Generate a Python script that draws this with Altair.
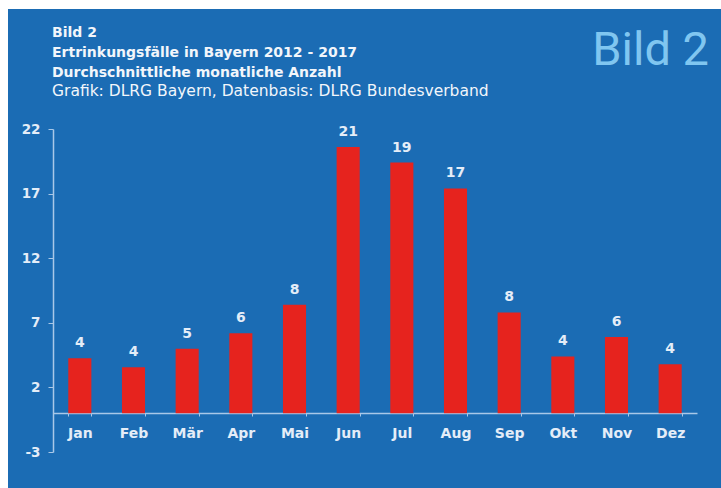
import altair as alt
import pandas as pd

months = ["Jan", "Feb", "Mär", "Apr", "Mai", "Jun", "Jul", "Aug", "Sep", "Okt", "Nov", "Dez"]
values = [4.26, 3.56, 5.0, 6.2, 8.4, 20.6, 19.4, 17.4, 7.8, 4.4, 5.9, 3.8]
y_ticks = [-3, 2, 7, 12, 17, 22]
title_bold = ["Bild 2", "Ertrinkungsfälle in Bayern 2012 - 2017", "Durchschnittliche monatliche Anzahl"]
title_regular = "Grafik: DLRG Bayern, Datenbasis: DLRG Bundesverband"
badge = "Bild 2"

BLUE = "#1b6cb4"
RED = "#e6231e"
LIGHT = "#e4edf8"
AXIS = "#a9c8e8"
FONT = "DejaVu Sans"

df = pd.DataFrame({"month": months, "value": values})
one = pd.DataFrame({"k": [0]})

x_enc = alt.X("month:N", sort=months, title=None,
              scale=alt.Scale(paddingInner=0.57, paddingOuter=0.285),
              axis=alt.Axis(labelAngle=0, offset=-39, domainColor=AXIS, domainWidth=1.5,
                            tickColor=AXIS, tickSize=3, tickBand="extent",
                            labelColor=LIGHT, labelFont=FONT, labelFontSize=14,
                            labelFontWeight="bold", labelPadding=10))
y_enc = alt.Y("value:Q", title=None,
              scale=alt.Scale(domain=[-3, 22], nice=False, zero=False),
              axis=alt.Axis(values=y_ticks, grid=False, domainColor=AXIS, domainWidth=1.5,
                            tickColor=AXIS, tickSize=5, labelColor=LIGHT, labelFont=FONT,
                            labelFontSize=13.5, labelFontWeight="bold", labelPadding=8,
                            labelExpr="datum.value < 0 ? '-' + toString(-datum.value) : datum.label"))

bars = alt.Chart(df).mark_bar(color=RED).encode(x=x_enc, y=y_enc, y2=alt.datum(0))

labels = alt.Chart(df).mark_text(font=FONT, fontSize=14, fontWeight="bold", color=LIGHT,
                                 baseline="alphabetic", dy=-11).encode(
    x=alt.X("month:N", sort=months),
    y=alt.Y("value:Q"),
    text=alt.Text("value:Q", format=".0f"))

# white frame strips of the scanned picture (decoration)
frame_top = alt.Chart(one).mark_rect(color="white").encode(
    x=alt.value(-53), x2=alt.value(668), y=alt.value(-129), y2=alt.value(-120))
frame_left = alt.Chart(one).mark_rect(color="white").encode(
    x=alt.value(-53), x2=alt.value(-45), y=alt.value(-129), y2=alt.value(359))

title_layers = []
for i, t in enumerate(title_bold):
    title_layers.append(
        alt.Chart(pd.DataFrame({"t": [t]})).mark_text(
            font=FONT, fontSize=14, fontWeight="bold", color="#f2f6fb",
            align="left", baseline="alphabetic").encode(
            x=alt.value(-1), y=alt.value(-92 + 20 * i), text="t:N"))
title_layers.append(
    alt.Chart(pd.DataFrame({"t": [title_regular]})).mark_text(
        font=FONT, fontSize=15.5, color="#f2f6fb", align="left", baseline="alphabetic").encode(
        x=alt.value(-1), y=alt.value(-33), text="t:N"))

badge_layer = alt.Chart(pd.DataFrame({"t": [badge]})).mark_text(
    font="Roboto", fontSize=47, color="#80c6f0", align="right", baseline="alphabetic").encode(
    x=alt.value(656), y=alt.value(-64), text="t:N")

chart = alt.layer(frame_top, frame_left, bars, labels, *title_layers, badge_layer).properties(
    width=644, height=323,
    background=BLUE,
    padding={"left": 53, "top": 129, "right": 24, "bottom": 36},
    autosize=alt.AutoSizeParams(type="none"),
).configure_view(strokeWidth=0)

chart.save("out.html", embed_options={"renderer": "svg", "actions": False})
